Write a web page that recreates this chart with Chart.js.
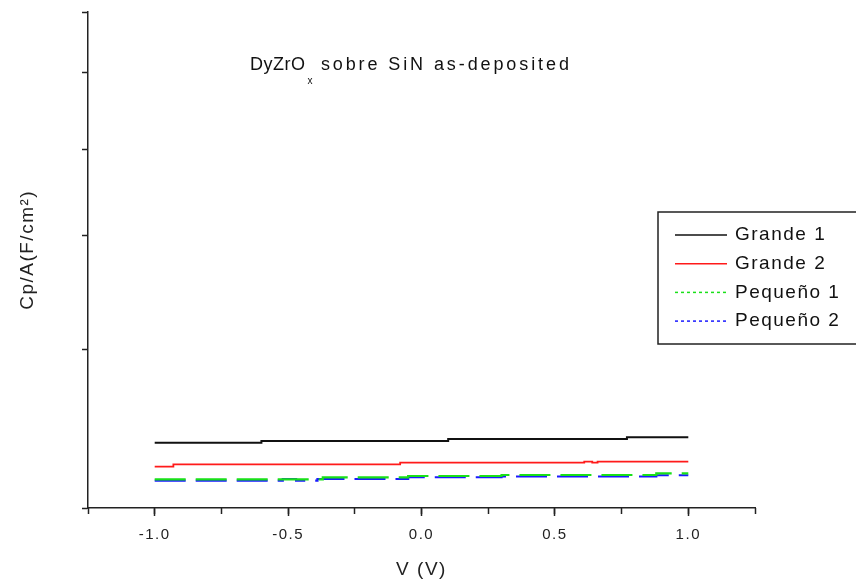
<!DOCTYPE html>
<html>
<head>
<meta charset="utf-8">
<title>DyZrOx sobre SiN</title>
<script src="https://cdn.jsdelivr.net/npm/chart.js@4.4.1/dist/chart.umd.min.js"></script>
<style>
  html, body { margin: 0; padding: 0; background: #fff; }
  #wrap { width: 856px; height: 583px; }
</style>
</head>
<body>
<div id="wrap"><canvas id="cvChart" width="856" height="583"></canvas></div>
<script>
// C-V sweeps, capacitance per area in F/cm2 (step points only)
const grande1V = [-1.0, -0.60, -0.60, 0.10, 0.10, 0.77, 0.77, 1.0];
const grande1C = [1.317e-7, 1.317e-7, 1.351e-7, 1.351e-7, 1.391e-7, 1.391e-7, 1.425e-7, 1.425e-7];

const grande2V = [-1.0, -0.93, -0.93, -0.08, -0.08, 0.61, 0.61, 0.64, 0.64, 0.66, 0.66, 0.72, 0.72, 1.0];
const grande2C = [0.833e-7, 0.833e-7, 0.881e-7, 0.881e-7, 0.913e-7, 0.913e-7, 0.933e-7, 0.933e-7, 0.913e-7, 0.913e-7, 0.933e-7, 0.933e-7, 0.933e-7, 0.933e-7];

const pequeno1V = [-1.0, -0.37, -0.37, -0.05, -0.05, 0.30, 0.30, 0.88, 0.88, 1.0];
const pequeno1C = [0.579e-7, 0.579e-7, 0.619e-7, 0.619e-7, 0.645e-7, 0.645e-7, 0.665e-7, 0.665e-7, 0.700e-7, 0.700e-7];

const pequeno2V = [-1.0, -0.52, -0.52, -0.47, -0.47, -0.39, -0.39, -0.05, -0.05, 0.30, 0.30, 0.88, 0.88, 1.0];
const pequeno2C = [0.550e-7, 0.550e-7, 0.585e-7, 0.585e-7, 0.550e-7, 0.550e-7, 0.585e-7, 0.585e-7, 0.620e-7, 0.620e-7, 0.635e-7, 0.635e-7, 0.660e-7, 0.660e-7];

const seriesNames = ['Grande 1', 'Grande 2', 'Pequeño 1', 'Pequeño 2'];

// axis ranges and tick positions
const vMin = -1.25, vMax = 1.25;
const vTicks = [-1.0, -0.5, 0.0, 0.5, 1.0];
const vMinorTicks = [-1.25, -1.0, -0.75, -0.5, -0.25, 0.0, 0.25, 0.5, 0.75, 1.0, 1.25];
const cMin = 0, cMax = 1e-6;
const yTicks = [0, 3.19e-7, 5.50e-7, 7.22e-7, 8.79e-7, 1e-6];

const FONT = 'Liberation Sans, Arial, sans-serif';
const INK = '#222';

function pts(xs, ys) {
  return xs.map((x, i) => ({ x: x, y: ys[i] }));
}

function fixedTicks(values) {
  return (scale) => {
    scale.ticks = values.map((v) => ({ value: v }));
  };
}

// Origin-style letter spacing for every text drawn on the canvas
const spacing = {
  id: 'spacing',
  beforeDraw(chart) {
    chart.ctx.letterSpacing = '1.5px';
  }
};

// boxed key on the right, drawn from the dataset styles
const keyBox = {
  id: 'keyBox',
  afterDraw(chart) {
    const ctx = chart.ctx;
    const left = 658, top = 212, bottom = 344;
    ctx.save();
    ctx.letterSpacing = '1.5px';
    ctx.strokeStyle = INK;
    ctx.lineWidth = 1.5;
    ctx.strokeRect(left, top, 870 - left, bottom - top);

    chart.data.datasets.forEach((ds, i) => {
      const y = 235 + i * 28.7;
      ctx.beginPath();
      ctx.setLineDash(ds.keyDash || []);
      ctx.strokeStyle = ds.borderColor;
      ctx.lineWidth = 1.5;
      ctx.moveTo(675, y);
      ctx.lineTo(727, y);
      ctx.stroke();
      ctx.setLineDash([]);
      ctx.fillStyle = '#111';
      ctx.font = '19px ' + FONT;
      ctx.textBaseline = 'middle';
      ctx.textAlign = 'left';
      ctx.fillText(ds.label, 735, y);
    });
    ctx.restore();
  }
};

// sample label with the subscript x
const sampleLabel = {
  id: 'sampleLabel',
  afterDraw(chart) {
    const ctx = chart.ctx;
    ctx.save();
    ctx.fillStyle = '#111';
    ctx.textBaseline = 'alphabetic';
    ctx.textAlign = 'left';
    ctx.letterSpacing = '0.5px';
    let x = 250;
    ctx.font = '18px ' + FONT;
    ctx.fillText('DyZrO', x, 70);
    x += ctx.measureText('DyZrO').width + 2;
    ctx.font = '10px ' + FONT;
    ctx.fillText('x', x, 84);
    x += ctx.measureText('x').width;
    ctx.font = '18px ' + FONT;
    ctx.letterSpacing = '2.9px';
    ctx.fillText(' sobre SiN as-deposited', x, 70);
    ctx.restore();
  }
};

const ctx = document.getElementById('cvChart').getContext('2d');

new Chart(ctx, {
  type: 'line',
  data: {
    datasets: [
      {
        label: seriesNames[0],
        data: pts(grande1V, grande1C),
        borderColor: '#111',
        borderWidth: 2,
      },
      {
        label: seriesNames[1],
        data: pts(grande2V, grande2C),
        borderColor: '#ff1a1a',
        borderWidth: 1.8,
      },
      {
        label: seriesNames[2],
        data: pts(pequeno1V, pequeno1C),
        borderColor: '#19e019',
        borderWidth: 2.2,
        borderDash: [31, 10],
        keyDash: [3, 3],
      },
      {
        label: seriesNames[3],
        data: pts(pequeno2V, pequeno2C),
        borderColor: '#1a1aff',
        borderWidth: 2.2,
        borderDash: [31, 10],
        keyDash: [3, 3],
      },
    ],
  },
  options: {
    responsive: false,
    animation: false,
    devicePixelRatio: 1,
    layout: {
      padding: { top: 12, right: 101, left: 0, bottom: 0 },
    },
    elements: {
      point: { radius: 0, hoverRadius: 0 },
      line: { tension: 0, borderCapStyle: 'butt' },
    },
    plugins: {
      legend: { display: false },
      tooltip: { enabled: false },
    },
    scales: {
      x: {
        type: 'linear',
        position: 'bottom',
        min: vMin,
        max: vMax,
        afterBuildTicks: fixedTicks(vTicks),
        ticks: {
          maxRotation: 0,
          autoSkip: false,
          padding: 10,
          color: INK,
          font: { family: FONT, size: 15 },
          callback: (v) => v.toFixed(1),
        },
        grid: {
          drawOnChartArea: false,
          tickLength: 8,
          tickWidth: 1.5,
          tickColor: INK,
        },
        border: { color: INK, width: 1.5 },
        title: {
          display: true,
          text: 'V (V)',
          color: INK,
          font: { family: FONT, size: 19 },
          padding: { top: 0, bottom: 2 },
        },
        afterFit: (scale) => { scale.height = 75; },
      },
      // minor ticks along the voltage axis
      xMinor: {
        type: 'linear',
        axis: 'x',
        position: { y: 0 },
        min: vMin,
        max: vMax,
        afterBuildTicks: fixedTicks(vMinorTicks),
        ticks: { display: false, autoSkip: false },
        grid: {
          drawOnChartArea: false,
          tickLength: 6,
          tickWidth: 1.5,
          tickColor: INK,
        },
        border: { display: false },
      },
      y: {
        type: 'linear',
        position: 'left',
        min: cMin,
        max: cMax,
        afterBuildTicks: fixedTicks(yTicks),
        ticks: { display: false },
        grid: {
          drawOnChartArea: false,
          tickLength: 6,
          tickWidth: 1.5,
          tickColor: INK,
        },
        border: { color: INK, width: 1.5 },
        title: {
          display: true,
          text: '   Cp/A(F/cm²)',
          color: INK,
          font: { family: FONT, size: 19 },
          padding: { top: 16, bottom: 0 },
        },
        afterFit: (scale) => { scale.width = 88; },
      },
    },
  },
  plugins: [spacing, keyBox, sampleLabel],
});
</script>
</body>
</html>
